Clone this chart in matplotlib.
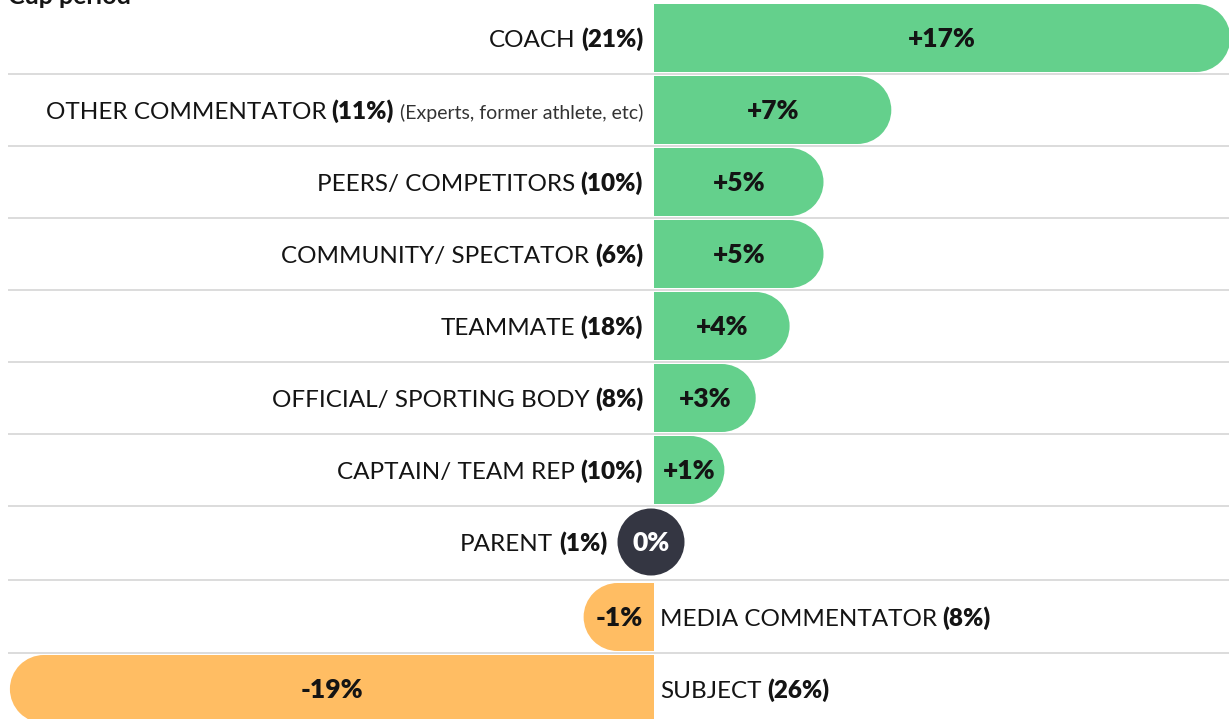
import matplotlib
matplotlib.use("Agg")
import matplotlib.pyplot as plt
from matplotlib.patches import Rectangle, Ellipse

# ---------------- data ----------------
categories = ["COACH", "OTHER COMMENTATOR", "PEERS/ COMPETITORS", "COMMUNITY/ SPECTATOR",
              "TEAMMATE", "OFFICIAL/ SPORTING BODY", "CAPTAIN/ TEAM REP", "PARENT",
              "MEDIA COMMENTATOR", "SUBJECT"]
shares = [21, 11, 10, 6, 18, 8, 10, 1, 8, 26]
changes = [17, 7, 5, 5, 4, 3, 1, 0, -1, -19]
notes = ["", "(Experts, former athlete, etc)", "", "", "", "", "", "", "", ""]
title = "Cup period"

# ---------------- style ----------------
W, H, DPI = 1229, 719, 100
FONT = "Lato"
GREEN = "#64d08c"
ORANGE = "#ffbd63"
DARK = "#343642"
TXT = "#141414"
GRID = "#d9d9d9"
SX = 33.9    # px per x unit
SY = 72.0    # px per row
R_PX = 34.0  # bar end radius (px)
LABEL_PT = 17.5
VALUE_PT = 19
NOTE_PT = 14

plt.rcParams['font.family'] = [FONT, 'DejaVu Sans']

fig = plt.figure(figsize=(W / DPI, H / DPI), dpi=DPI)
ax = fig.add_axes([0, 0, 1, 1])
ax.set_xlim(-654 / SX, (W - 654) / SX)
ax.set_ylim((H - 38) / SY, -38 / SY)
ax.axis('off')

rx = R_PX / SX
ry = R_PX / SY
neg_shift = 3 / SY

ys = [i + (neg_shift if c < 0 else 0) for i, c in enumerate(changes)]


def baseline(y, pt):
    # put baseline so that the cap height is centred on y
    return y + 0.5 * pt * 0.98 / SY


def chain(pieces, x0, y, align):
    gap = 4
    if align == 'right':
        order = pieces[::-1]
        s, kw = order[0]
        t = ax.text(x0, baseline(y, LABEL_PT), s, ha='right', va='baseline', **kw)
        for s, kw in order[1:]:
            t = ax.annotate(s, xy=(0, baseline(y, LABEL_PT)), xycoords=(t, 'data'),
                            xytext=(-gap, 0), textcoords='offset points',
                            ha='right', va='baseline', **kw)
    else:
        s, kw = pieces[0]
        t = ax.text(x0, baseline(y, LABEL_PT), s, ha='left', va='baseline', **kw)
        for s, kw in pieces[1:]:
            t = ax.annotate(s, xy=(1, baseline(y, LABEL_PT)), xycoords=(t, 'data'),
                            xytext=(gap, 0), textcoords='offset points',
                            ha='left', va='baseline', **kw)


# separators
for i in range(len(ys) - 1):
    yy = (ys[i] + ys[i + 1]) / 2
    ax.plot([-646 / SX, (W - 654) / SX], [yy, yy], color=GRID, lw=1.3, zorder=1,
            solid_capstyle='butt')

for cat, sh, ch, note, y in zip(categories, shares, changes, notes, ys):
    if ch == 0:
        r0 = 33.5
        ax.add_patch(Ellipse((-3 / SX, y), 2 * r0 / SX, 2 * r0 / SY, color=DARK, lw=0, zorder=3))
        ax.text(-3 / SX, baseline(y, VALUE_PT), f"{ch}%", ha='center', va='baseline',
                fontsize=VALUE_PT, fontweight='heavy', color='white', zorder=4)
        x_lab = -(36 + 11) / SX
        align = 'right'
    else:
        sign = 1 if ch > 0 else -1
        L = max(abs(ch), 2.07 * rx)
        color = GREEN if ch > 0 else ORANGE
        ax.add_patch(Rectangle((0, y - ry), sign * (L - rx), 2 * ry, color=color, lw=0, zorder=3))
        ax.add_patch(Ellipse((sign * (L - rx), y), 2 * rx, 2 * ry, color=color, lw=0, zorder=3))
        ax.text(sign * L / 2, baseline(y, VALUE_PT), f"{ch:+d}%", ha='center', va='baseline',
                fontsize=VALUE_PT, fontweight='heavy', color=TXT, zorder=4)
        if ch > 0:
            x_lab = -11 / SX
            align = 'right'
        else:
            x_lab = 6 / SX
            align = 'left'
    pieces = [(cat, dict(fontsize=LABEL_PT, color=TXT)),
              (f"({sh}%)", dict(fontsize=LABEL_PT, color=TXT, fontweight='heavy'))]
    if note:
        pieces.append((note, dict(fontsize=NOTE_PT, color='#333333')))
    chain(pieces, x_lab, y, align)

fig.text(8 / W, 1 - 4 / H, title, ha='left', va='baseline', fontsize=18,
         fontweight='bold', color=TXT)

fig.savefig("out.png", dpi=DPI)
